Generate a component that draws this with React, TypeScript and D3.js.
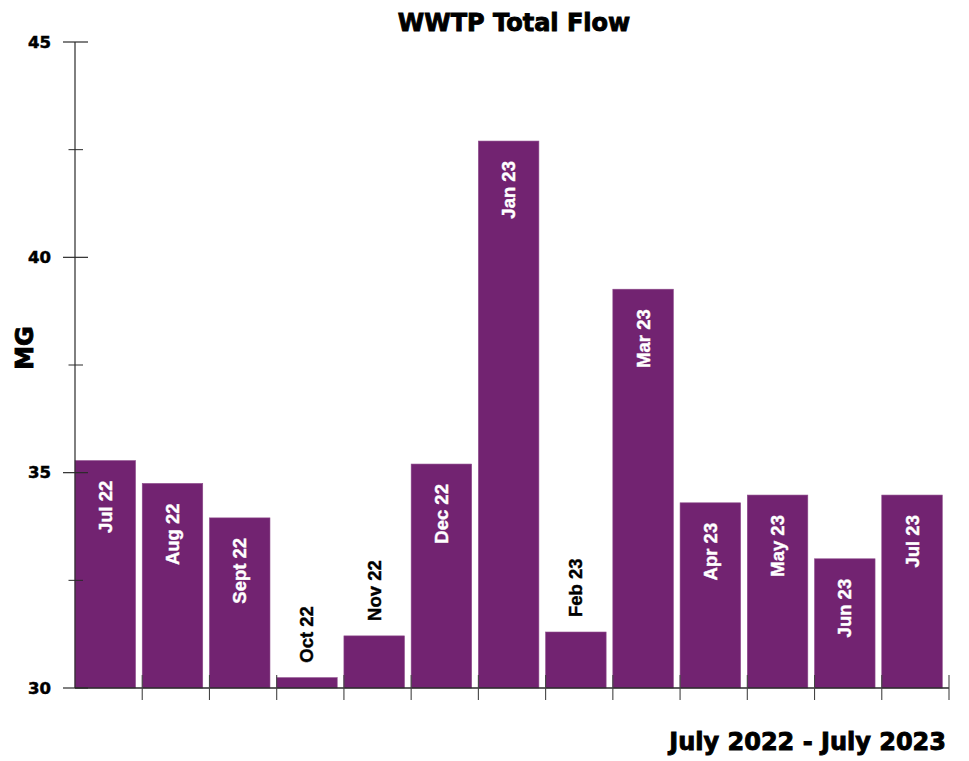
import React from "react";
import * as d3 from "d3";

// Monthly WWTP total flow (million gallons)
const months = [
  "Jul 22", "Aug 22", "Sept 22", "Oct 22", "Nov 22", "Dec 22", "Jan 23",
  "Feb 23", "Mar 23", "Apr 23", "May 23", "Jun 23", "Jul 23",
];
const flowMG = [35.28, 34.75, 33.95, 30.24, 31.21, 35.2, 42.7, 31.3, 39.26, 34.3, 34.48, 33.0, 34.48];
const majorTicks = [30, 35, 40, 45];
const minorTicks = [32.5, 37.5, 42.5];

const chartTitle = "WWTP Total Flow";
const xTitle = "July 2022 - July 2023";
const yTitle = "MG";

const W = 969;
const H = 761;
const left = 75;
const right = 949;
const top = 42;
const bottom = 688;

const barColor = "#722371";
const axisColor = "#2a2a2a";
const heavyFont = "'DejaVu Sans', sans-serif";
const labelFont = "'Liberation Sans', Arial, sans-serif";

export default function App() {
  const x = d3.scaleBand<string>().domain(months).range([left, right]).padding(0);
  const y = d3.scaleLinear().domain([30, 45]).range([bottom, top]);
  const bw = x.bandwidth() * 0.9;

  return (
    <svg
      width={W}
      height={H}
      viewBox={`0 0 ${W} ${H}`}
      style={{ position: "absolute", left: 0, top: 0, display: "block", background: "#fff" }}
    >
      <rect x={0} y={0} width={W} height={H} fill="#fff" />

      {/* bars */}
      {months.map((m, i) => {
        const x0 = x(m)!;
        const yTop = y(flowMG[i]);
        return (
          <rect
            key={m}
            x={x0}
            y={yTop}
            width={bw}
            height={bottom - yTop}
            fill={barColor}
            stroke="#8c4a8a"
            strokeWidth={0.6}
          />
        );
      })}

      {/* y axis */}
      <line x1={left} x2={left} y1={top} y2={bottom} stroke={axisColor} strokeWidth={1.2} />
      {majorTicks.map((t) => (
        <g key={t}>
          <line x1={63} x2={88} y1={y(t)} y2={y(t)} stroke={axisColor} strokeWidth={1.2} />
          <text
            x={51}
            y={y(t)}
            textAnchor="end"
            dominantBaseline="central"
            fontFamily={heavyFont}
            fontWeight="bold"
            fontSize={16.5}
            fill="#000"
            stroke="#000"
            strokeWidth={0.5}
          >
            {t}
          </text>
        </g>
      ))}
      {minorTicks.map((t) => (
        <line key={t} x1={68.5} x2={83} y1={y(t)} y2={y(t)} stroke={axisColor} strokeWidth={1} />
      ))}

      {/* x axis */}
      <line x1={left} x2={right} y1={bottom} y2={bottom} stroke={axisColor} strokeWidth={1.4} />
      {months.map((m) => {
        const xb = x(m)! + x.bandwidth();
        return <line key={m} x1={xb} x2={xb} y1={675} y2={700} stroke="#444" strokeWidth={1.1} />;
      })}

      {/* month labels */}
      {months.map((m, i) => {
        const cx = x(m)! + bw / 2;
        const yTop = y(flowMG[i]);
        const inside = bottom - yTop > 80;
        const ly = inside ? yTop + 20 : yTop - 15;
        const c = inside ? "#fff" : "#000";
        return (
          <text
            key={m}
            transform={`translate(${cx},${ly}) rotate(-90)`}
            textAnchor={inside ? "end" : "start"}
            dominantBaseline="central"
            fontFamily={labelFont}
            fontWeight="bold"
            fontSize={18.5}
            fill={c}
            stroke={c}
            strokeWidth={0.4}
          >
            {m}
          </text>
        );
      })}

      {/* titles */}
      <text
        x={514}
        y={30.5}
        textAnchor="middle"
        fontFamily={heavyFont}
        fontWeight="bold"
        fontSize={24}
        fill="#000"
        stroke="#000"
        strokeWidth={0.9}
      >
        {chartTitle}
      </text>
      <text
        x={946}
        y={750}
        textAnchor="end"
        fontFamily={heavyFont}
        fontWeight="bold"
        fontSize={24}
        fill="#000"
        stroke="#000"
        strokeWidth={0.9}
      >
        {xTitle}
      </text>
      <text
        transform="translate(33,348) rotate(-90)"
        textAnchor="middle"
        fontFamily={heavyFont}
        fontWeight="bold"
        fontSize={24}
        fill="#000"
        stroke="#000"
        strokeWidth={0.9}
      >
        {yTitle}
      </text>
    </svg>
  );
}
